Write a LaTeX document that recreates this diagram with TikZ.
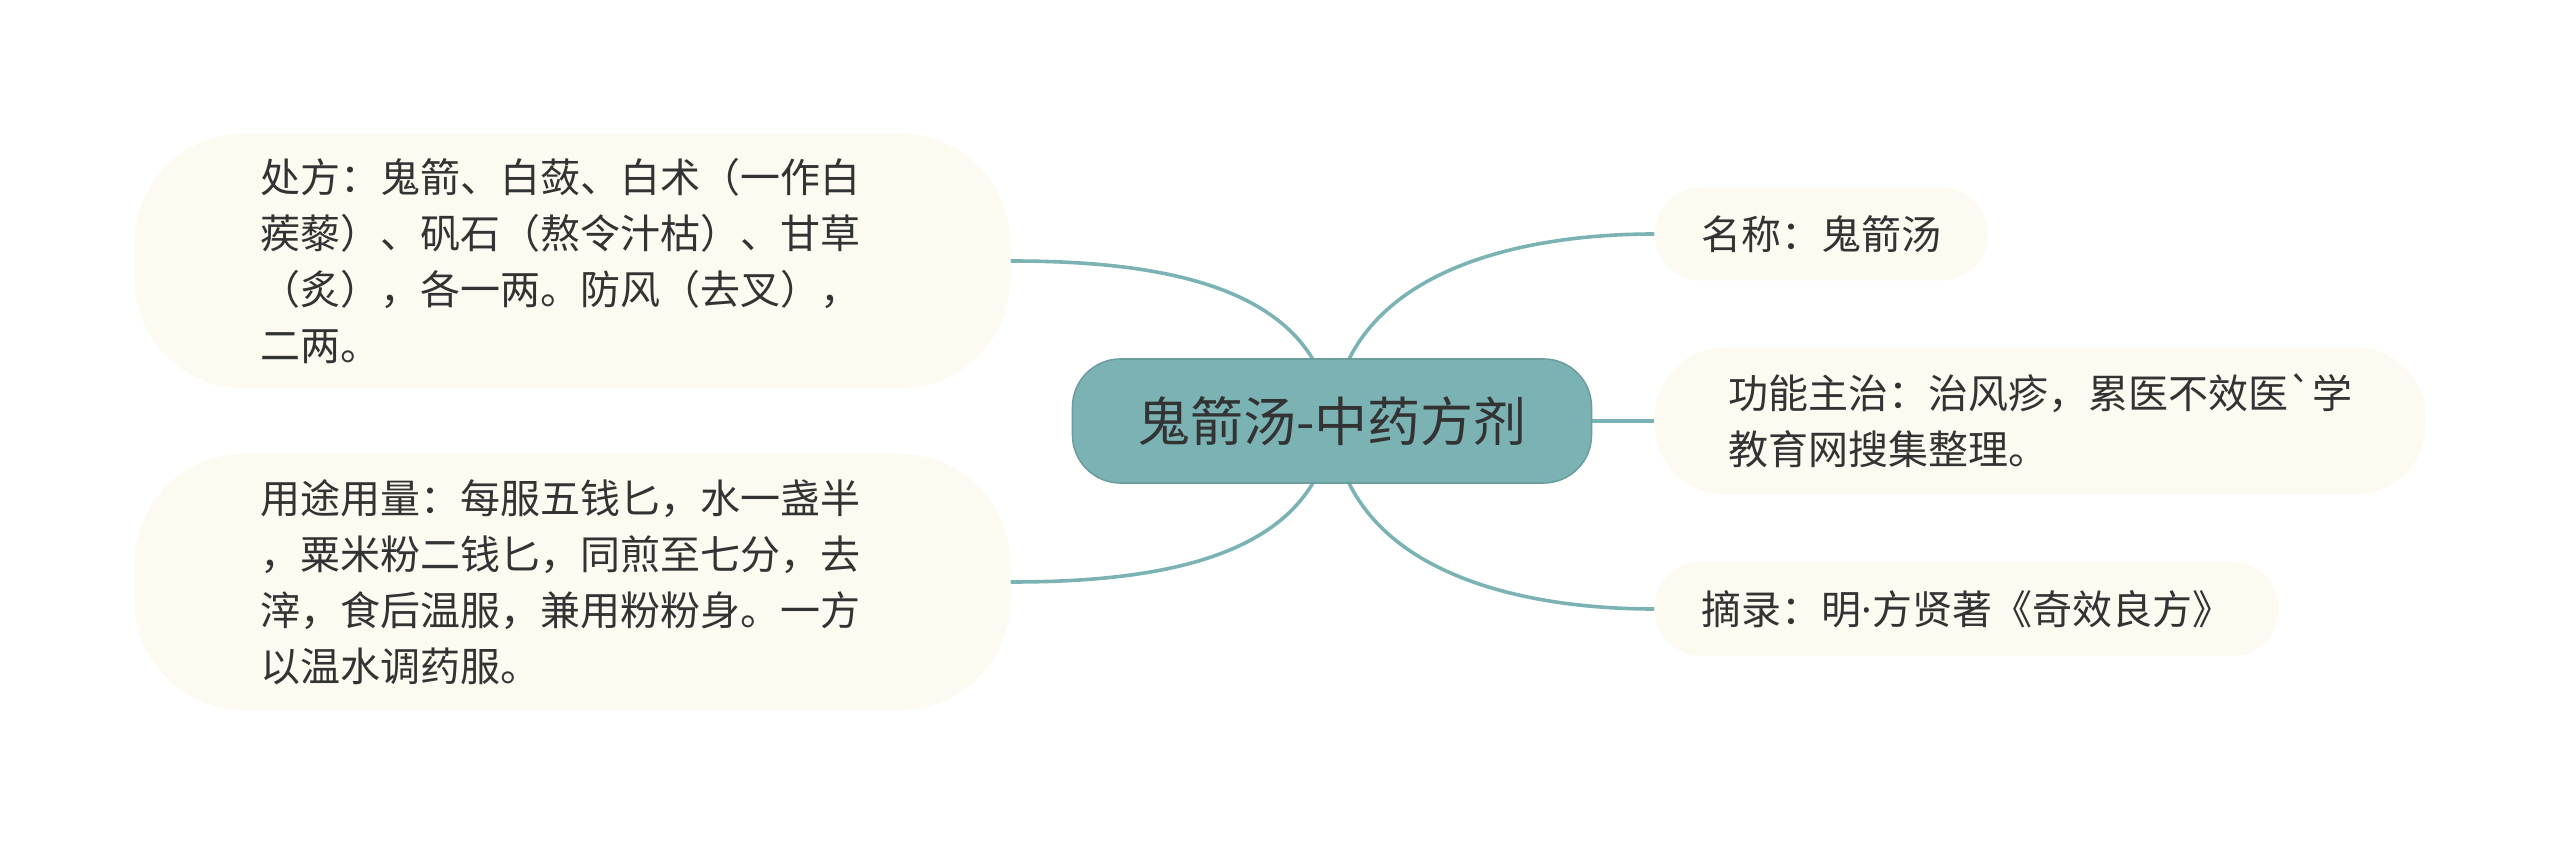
\documentclass[tikz,border=0pt]{standalone}
\usepackage{fontspec}
\newfontfamily\cjk[Ligatures=TeXOff]{Noto Sans CJK SC}
\newfontfamily\latin{Noto Sans}
\usetikzlibrary{positioning,backgrounds}
\definecolor{rootfill}{HTML}{7BB3B5}
\definecolor{branchline}{HTML}{7BB3B5}
\definecolor{leaffill}{HTML}{FCFAF1}
\definecolor{ink}{HTML}{333333}
\begin{document}
\begin{tikzpicture}[
    root/.style={rounded corners=24pt, fill=rootfill, draw=rootfill!88!black, line width=0.8pt,
        minimum width=259.5pt, minimum height=62pt, text=ink, font=\cjk\fontsize{26.5pt}{32pt}\selectfont},
    leaf/.style={rounded corners=#1, fill=leaffill, text=ink, align=left, inner sep=0pt,
        font=\cjk\fontsize{20pt}{28pt}\selectfont},
    leaf/.default=23pt,
    branch/.style={draw=branchline, line width=1.8pt}]
    \useasboundingbox (0,0) rectangle (1280pt,-422pt);
    \node[root] (root) at (666pt,-210.5pt) {鬼箭汤-中药方剂};
    \node[leaf=55pt, minimum width=438pt, minimum height=127.5pt, text width=312pt] (pres) [left=30.5pt of root, yshift=80pt] {处方：鬼箭、白蔹、白术（一作白\\蒺藜）、矾石（熬令汁枯）、甘草\\（炙），各一两。防风（去叉），\\二两。};
    \node[leaf=55pt, minimum width=438pt, minimum height=128pt, text width=312pt] (usage) [left=30.5pt of root, yshift=-80.5pt] {用途用量：每服五钱匕，水一盏半\\，粟米粉二钱匕，同煎至七分，去\\滓，食后温服，兼用粉粉身。一方\\以温水调药服。};
    \node[leaf, minimum width=166.5pt, minimum height=46.5pt] (name) [right=31pt of root, yshift=93.5pt] {名称：鬼箭汤};
    \node[leaf=35pt, minimum width=385.5pt, minimum height=73.5pt] (func) [right=31pt of root] {功能主治：治风疹，累医不效医`学\\教育网搜集整理。};
    \node[leaf, minimum width=312pt, minimum height=47pt] (src) [right=31pt of root, yshift=-94pt] {摘录：明{\latin·}方贤著《奇效良方》};

    \begin{pgfonlayer}{background}
        \draw[branch] (root.center) to[out=95, in=0] (pres.east);
        \draw[branch] (root.center) to[out=-95, in=0] (usage.east);
        \draw[branch] (root.center) to[out=85, in=180] (name.west);
        \draw[branch] (root.center) -- (func.west);
        \draw[branch] (root.center) to[out=-85, in=180] (src.west);
    \end{pgfonlayer}
\end{tikzpicture}
\end{document}
